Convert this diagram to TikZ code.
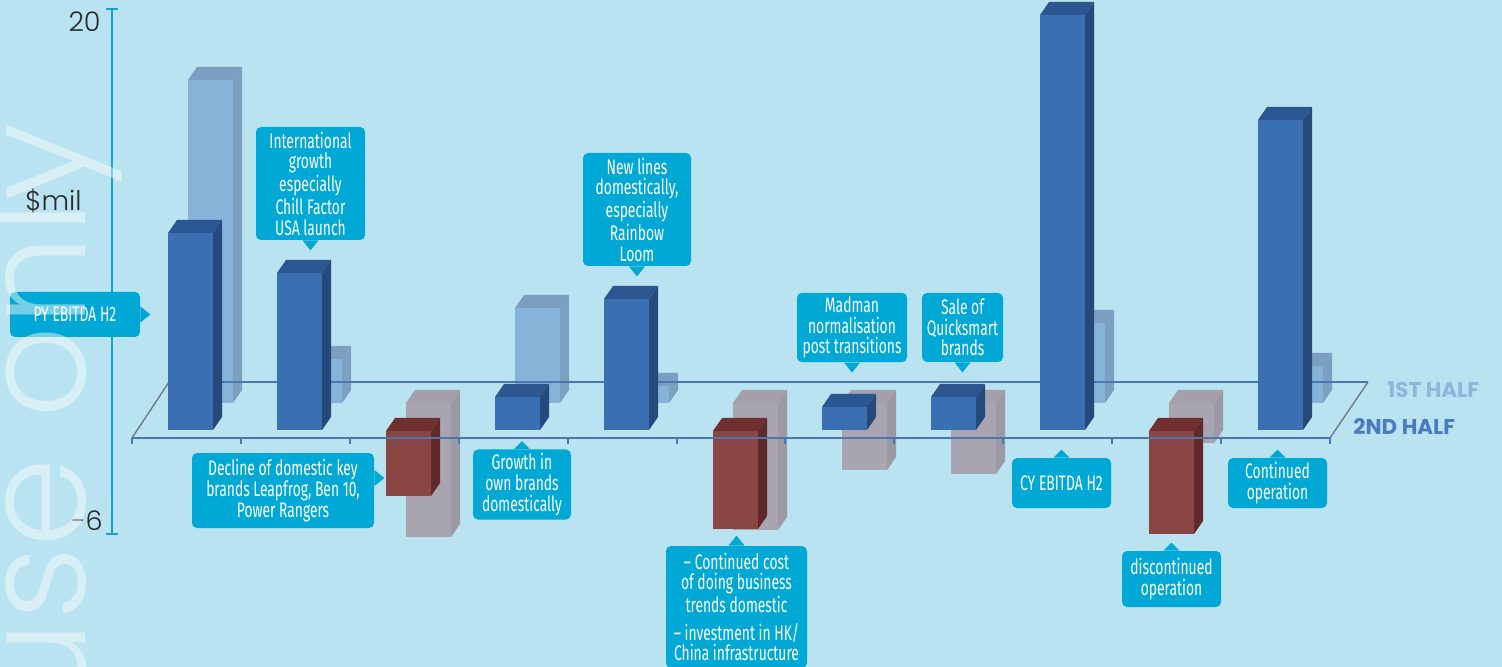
\documentclass[tikz,border=0pt]{standalone}
\usepackage{fontspec}
\setmainfont{Poppins}
\newfontfamily\notefont[FakeStretch=0.66]{Fira Sans}
\newfontfamily\thinfont{Poppins Light}
\usepackage{tikz}
\usetikzlibrary{positioning}

\definecolor{bgblue}{HTML}{B9E3F0}
\definecolor{calloutblue}{HTML}{00A8D5}
\definecolor{axisblue}{HTML}{1AA1D3}
\definecolor{planeblue}{HTML}{4A77B3}
\definecolor{slantgrey}{HTML}{6F7C88}
\definecolor{numtext}{HTML}{2A2A2A}
\definecolor{halfone}{HTML}{8DB6DC}
\definecolor{halftwo}{HTML}{4A7AC0}
% bar faces: F front, S side, T top
\definecolor{fbF}{HTML}{3A70B2}
\definecolor{fbS}{HTML}{25497A}
\definecolor{fbT}{HTML}{2B5690}
\definecolor{frF}{HTML}{8A4545}
\definecolor{frS}{HTML}{612A2A}
\definecolor{frT}{HTML}{70302F}
\definecolor{lbF}{HTML}{88B3D9}
\definecolor{lbS}{HTML}{7BA0C2}
\definecolor{lbT}{HTML}{7C9EC0}
\definecolor{gyF}{HTML}{A8A5B1}
\definecolor{gyS}{HTML}{9C99A4}
\definecolor{gyT}{HTML}{A3A0AB}

\newcommand{\cuboid}[4]{%
  \fill[#4F] (#1,#2) rectangle (#1+45,#3);
  \fill[#4S] (#1+45,#2) -- (#1+54,#2-13) -- (#1+54,#3-13) -- (#1+45,#3) -- cycle;
  \fill[#4T] (#1,#2) -- (#1+9,#2-13) -- (#1+54,#2-13) -- (#1+45,#2) -- cycle;
}

\tikzset{
  callout/.style={fill=calloutblue, rounded corners=2.5pt, text=white,
    align=center, inner sep=2pt,
    font=\notefont\fontsize{10.5}{10.3}\selectfont},
  plane/.style={draw=planeblue, line width=1pt},
  slant/.style={draw=slantgrey, line width=0.7pt},
  axisline/.style={draw=axisblue, line width=1pt},
  numlabel/.style={text=numtext, inner sep=0pt, font=\thinfont\fontsize{13.5}{14}\selectfont},
  halflabel/.style={inner sep=0pt, anchor=west, font=\bfseries\fontsize{10.7}{12}\selectfont},
}

\begin{document}
\begin{tikzpicture}[x=0.5pt,y=-0.5pt]
  \fill[bgblue] (0,0) rectangle (1502,667);
  \useasboundingbox (0,0) rectangle (1502,667);

  % value axis
  \coordinate (atop) at (112,9);
  \coordinate (abot) at (112,534);
  \draw[axisline] (atop) -- (abot);
  \draw[axisline] ([xshift=-3pt]atop) -- ([xshift=3pt]atop);
  \draw[axisline] ([xshift=-3pt]abot) -- ([xshift=3pt]abot);
  \node[numlabel, anchor=east] (ymax) at (101,22) {20};
  \node[numlabel, anchor=east] (ymin) at (103,521) {-6};
  \node[numlabel, anchor=west] (unit) at (25,201) {\$mil};

  % floor of the chart
  \coordinate (bl) at (169,382);
  \coordinate (br) at (1368,382);
  \coordinate (fl) at (132,438);
  \coordinate (fr) at (1330,438);

  % 1st half (back row)
  \foreach \i/\up/\lo/\col in {0/80/403/lb, 1/359/403/lb, 2/403/537/gy,
      3/308/403/lb, 4/386/403/lb, 5/403/530/gy, 6/403/470/gy,
      7/403/474/gy, 8/323/403/lb, 9/403/443/gy, 10/366/403/lb} {
    \pgfmathsetmacro\bx{188+109*\i}
    \cuboid{\bx}{\up}{\lo}{\col}
  }
  \draw[plane] (bl) -- (br);
  \draw[slant] (fl) -- (bl);
  \draw[slant] (fr) -- (br);

  % 2nd half (front row)
  \foreach \i/\up/\lo/\col in {0/233/430/fb, 1/273/430/fb, 2/431/496/fr,
      3/397/430/fb, 4/299/430/fb, 5/431/529/fr, 6/407/430/fb,
      7/397/430/fb, 8/15/430/fb, 9/431/534/fr, 10/120/430/fb} {
    \pgfmathsetmacro\bx{168+109*\i}
    \cuboid{\bx}{\up}{\lo}{\col}
  }
  \draw[plane] (fl) -- (fr);
  \foreach \k in {0,...,11}
    \draw[plane] (132+108.9*\k,438) -- ++(0,6);

  % callouts
  \node[callout, minimum width=65pt, minimum height=22.5pt] (py) at (75,314.5) {PY EBITDA H2};
  \fill[calloutblue] ([yshift=4pt]py.east) -- ++(5pt,-4pt) -- ++(-5pt,-4pt) -- cycle;

  \node[callout, minimum width=54.5pt, minimum height=56.5pt] (intl) at (310.5,183.5)
    {International\\growth\\especially\\Chill Factor\\USA launch};
  \fill[calloutblue] ([xshift=-4pt]intl.south) -- ++(4pt,-5pt) -- ++(4pt,5pt) -- cycle;

  \node[callout, minimum width=91pt, minimum height=37.5pt] (decl) at (283,490.5)
    {Decline of domestic key\\brands Leapfrog, Ben 10,\\Power Rangers};
  \fill[calloutblue] ([yshift=10.25pt]decl.east) -- ++(5pt,-4pt) -- ++(-5pt,-4pt) -- cycle;

  \node[callout, minimum width=49pt, minimum height=34.5pt] (own) at (522,484.5)
    {Growth in\\own brands\\domestically};
  \fill[calloutblue] ([xshift=-4pt]own.north) -- ++(4pt,4pt) -- ++(4pt,-4pt) -- cycle;

  \node[callout, minimum width=54pt, minimum height=56.5pt] (lines) at (637,209.5)
    {New lines\\domestically,\\especially\\Rainbow\\Loom};
  \fill[calloutblue] ([xshift=-4pt]lines.south) -- ++(4pt,-5pt) -- ++(4pt,5pt) -- cycle;

  \node[callout, minimum width=70.5pt, minimum height=61pt] (cost) at (736.5,607)
    {– Continued cost\\of doing business\\trends domestic\\[3.5pt]– investment in HK/\\China infrastructure};
  \fill[calloutblue] ([xshift=-4pt]cost.north) -- ++(4pt,5pt) -- ++(4pt,-5pt) -- cycle;

  \node[callout, minimum width=55pt, minimum height=34.5pt] (madman) at (852,327.5)
    {Madman\\normalisation\\post transitions};
  \fill[calloutblue] ([xshift=-4pt]madman.south) -- ++(4pt,-5pt) -- ++(4pt,5pt) -- cycle;

  \node[callout, minimum width=40.5pt, minimum height=34.5pt] (sale) at (962.5,327.5)
    {Sale of\\Quicksmart\\brands};
  \fill[calloutblue] ([xshift=-4pt]sale.south) -- ++(4pt,-5pt) -- ++(4pt,5pt) -- cycle;

  \node[callout, minimum width=49.5pt, minimum height=25pt] (cy) at (1061.5,483) {CY EBITDA H2};
  \fill[calloutblue] ([xshift=-4pt]cy.north) -- ++(4pt,4pt) -- ++(4pt,-4pt) -- cycle;

  \node[callout, minimum width=49.5pt, minimum height=28pt] (disc) at (1171.5,579)
    {discontinued\\operation};
  \fill[calloutblue] ([xshift=-4pt]disc.north) -- ++(4pt,4pt) -- ++(4pt,-4pt) -- cycle;

  \node[callout, minimum width=49.5pt, minimum height=25pt] (cont) at (1277.5,483)
    {Continued\\operation};
  \fill[calloutblue] ([xshift=-4pt]cont.north) -- ++(4pt,4pt) -- ++(4pt,-4pt) -- cycle;

  % legend
  \node[halflabel, text=halfone] (first) at (1387,390) {1ST HALF};
  \node[halflabel, text=halftwo] (second) at (1353,427) {2ND HALF};

  % watermark
  \node[rotate=90, anchor=base east, inner sep=0pt, text=white, text opacity=0.45,
    font=\thinfont\fontsize{72}{72}\selectfont] (mark) at (85,123) {use only};
\end{tikzpicture}
\end{document}
